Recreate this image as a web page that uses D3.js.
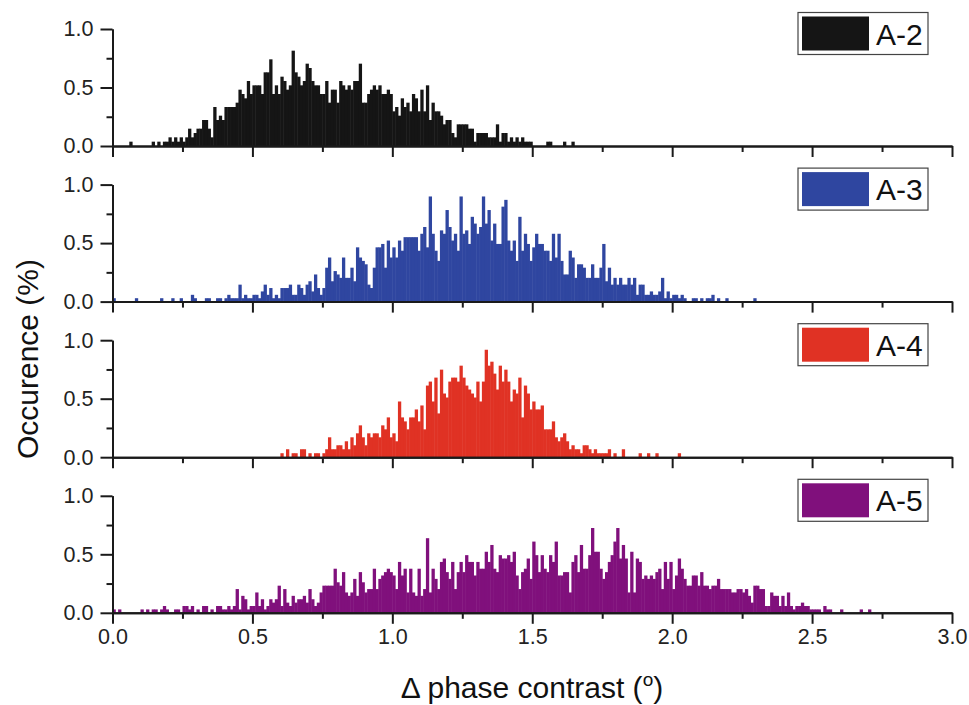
<!DOCTYPE html>
<html>
<head>
<meta charset="utf-8">
<script src="https://cdn.jsdelivr.net/npm/d3@7"></script>
<style>
  body { margin: 0; background: #fff; }
  svg { font-family: "Liberation Sans", Arial, sans-serif; }
</style>
</head>
<body>
<div id="chart"></div>
<script>
// ---------------------------//
//       DATA                 //
// ---------------------------//

// histogram bin width (degrees) and series names
const binWidth = 0.01;
const seriesNames = ["A-2", "A-3", "A-4", "A-5"];
// first bin of each series, and number of samples (occurrence % = count / total)
const binStart = [0.06, 0.00, 0.60, 0.00];
const sampleTotals = [2700, 3450, 2940, 3450];

const countsA2 = [
  1, 0,0,0,0,0,0,0, 1,0,1,0,1,1,
  2,1,2,1,2, 1,2,4,2,3, 4,4,6,6,4, 2,9,6,7,6,
  9,9,9,9,10, 13,12,11,15,12, 14,14,14,12,17, 17,20,12,14,12,
  16,15,13,14,22, 17,16,14,15,19, 18,15,14,14,12, 12,15,10,13,13,
  10,15,14,13,14, 13,15,15,19,10, 10,12,13,14,13, 14,12,12,13,12,
  8,9,7,11,9, 10,8,12,11,8, 13,8,14,6,10, 8,8,7,5,6,
  6,3,2,5,5, 5,5,4,4,1, 3,3,3,3,2, 2,2,5,1,3,
  3,1,2,1,2, 1,2,1,1,1, 0,0,0,0,0, 1,1,0,0,0, 0,1,0,0,1
];

const countsA3 = [
  1,0,0,0,0,0,0,0,1,0, 0,0,0,0,0,0,0,1,0,0,
  0,1,0,0,1,0,0,0,2,1, 0,0,0,1,1,0,0,1,1,0,
  1,2,1,1,1,5,1,2,1,1, 2,2,1,3,5,2,4,1,2,1,
  4,4,4,5,2,2,5,4,2,5, 6,3,8,4,2,4,10,13,6,9,
  8,7,13,7,7,10,6,16,13,12, 11,5,4,10,16,16,17,10,18,13,
  16,13,18,15,19,19,19,19,19,15, 20,22,16,31,20,15,12,21,20,27,
  22,18,20,15,31,20,21,17,25,23, 20,22,31,23,27,18,23,17,17,28,
  30,18,15,18,12,25,15,20,17,12, 16,20,17,17,15,15,12,20,13,20,
  12,8,8,15,13,7,11,11,10,7, 7,11,7,7,10,17,6,10,5,7,
  5,7,5,5,7,5,7,2,5,5, 2,2,3,2,2,3,7,1,3,1,
  2,2,1,2,1,0,0,1,1,0, 1,0,1,1,2,0,1,0,0,1,
  0,0,0,0,0,0,0,0,0,1
];

const countsA4 = [
  1,0,2,0,1,1,0,2,2,0, 1,0,1,1,0,1,2,5,2,2,
  3,3,2,4,2,5,3,6,8,5, 3,6,5,6,6,5,8,7,10,5,
  6,4,14,10,9,7,10,10,12,9, 13,7,18,19,14,20,11,22,16,15,
  19,20,20,19,23,20,18,17,16,15, 19,14,19,27,23,24,21,17,23,19,
  22,19,14,17,16,20,10,18,16,12, 14,12,12,13,7,7,7,9,5,4,
  5,6,4,2,3,2,2,1,3,3, 2,1,2,1,1,1,1,2,0,1,
  0,0,2,0,0,0,0,0,1,0, 0,1,0,0,1,0,0,0,0,0,
  0,0,1
];

const countsA5 = [
  1,0,1,0,0,0,0,0,0,0, 1,0,1,0,1,1,0,1,2,1,
  0,0,1,1,0,2,2,1,2,0, 1,0,2,2,0,1,0,2,2,1,
  1,2,1,2,7,1,5,4,1,2, 2,6,2,4,1,2,4,3,4,8,
  2,7,3,2,5,3,4,4,5,3, 7,4,2,3,6,8,8,8,8,13,
  9,8,12,6,5,6,10,5,12,9, 6,7,7,13,7,10,11,12,13,12,
  11,7,15,11,13,6,13,6,5,13, 5,7,22,6,13,10,7,15,16,12,
  10,15,7,12,15,12,17,15,15,11, 15,13,13,18,15,20,13,12,17,16,
  16,17,15,18,11,7,12,13,16,10, 21,17,12,17,13,12,17,15,21,11,
  11,12,12,6,15,17,12,20,13,13, 17,25,18,18,13,10,12,15,17,21,
  25,16,20,16,6,18,6,16,15,10, 11,10,11,10,12,13,7,15,10,15,
  7,11,16,13,10,8,8,11,11,8, 12,8,8,7,8,8,10,7,7,7,
  7,6,6,7,7,6,7,5,3,8, 8,7,7,2,2,6,5,5,2,5,
  2,6,2,1,2,2,3,2,2,1, 1,1,1,0,2,1,1,0,0,0,
  1,0,0,0,0,0,0,1,0,0, 1
];

// axis ticks
const xMajorTicks = [0, 0.5, 1.0, 1.5, 2.0, 2.5, 3.0];
const xMinorTicks = [0.25, 0.75, 1.25, 1.75, 2.25, 2.75];
const yMajorTicks = [0, 0.5, 1.0];
const yMinorTicks = [0.25, 0.75];

const allCounts = [countsA2, countsA3, countsA4, countsA5];
const colors = ["#151515", "#2f46a0", "#e03224", "#80107c"];

// ---------------------------//
//       LAYOUT               //
// ---------------------------//
const width = 969, height = 705;
const plotLeft = 112.5, plotRight = 952;
const firstTop = 29, panelStep = 155.6, panelHeight = 117;
const axisColor = "#1a1a1a";

const svg = d3.select("#chart")
  .append("svg")
    .attr("width", width)
    .attr("height", height);

const x = d3.scaleLinear()
  .domain([0, 3])
  .range([plotLeft, plotRight]);

seriesNames.forEach((name, i) => {
  const top = firstTop + i * panelStep;
  const zero = top + panelHeight;
  const y = d3.scaleLinear()
    .domain([0, 1])
    .range([zero, top]);

  const bins = allCounts[i].map((c, j) => ({
    x0: +(binStart[i] + j * binWidth).toFixed(2),
    pct: c * 100 / sampleTotals[i]
  })).filter(d => d.pct > 0);

  const g = svg.append("g");

  // bars (slight overlap so neighbouring bins don't show seams)
  g.append("g")
    .selectAll("rect")
    .data(bins)
    .join("rect")
      .attr("x", d => x(d.x0))
      .attr("width", d => x(d.x0 + binWidth) - x(d.x0) + 0.5)
      .attr("y", d => y(d.pct))
      .attr("height", d => zero - y(d.pct))
      .attr("fill", colors[i]);

  // x axis: minor then major ticks
  const isLast = i === seriesNames.length - 1;
  g.append("g")
    .attr("transform", `translate(0,${zero})`)
    .call(d3.axisBottom(x).tickValues(xMinorTicks).tickSize(6).tickSizeOuter(0).tickFormat(""));
  g.append("g")
    .attr("transform", `translate(0,${zero})`)
    .call(d3.axisBottom(x).tickValues(xMajorTicks).tickSize(11).tickSizeOuter(0)
      .tickPadding(5)
      .tickFormat(isLast ? d3.format(".1f") : ""));

  // y axis
  g.append("g")
    .attr("transform", `translate(${plotLeft},0)`)
    .call(d3.axisLeft(y).tickValues(yMinorTicks).tickSize(6).tickSizeOuter(0).tickFormat(""));
  g.append("g")
    .attr("transform", `translate(${plotLeft},0)`)
    .call(d3.axisLeft(y).tickValues(yMajorTicks).tickSize(12).tickSizeOuter(0)
      .tickPadding(7)
      .tickFormat(d3.format(".1f")));

  // legend
  const lg = g.append("g")
    .attr("transform", `translate(798,${zero - 133.5})`);
  lg.append("rect")
    .attr("width", 130)
    .attr("height", 42)
    .attr("fill", "#fff")
    .attr("stroke", "#444")
    .attr("stroke-width", 1.2);
  lg.append("rect")
    .attr("x", 4)
    .attr("y", 4)
    .attr("width", 67)
    .attr("height", 34)
    .attr("fill", colors[i]);
  lg.append("text")
    .attr("x", 78)
    .attr("y", 32)
    .attr("font-size", 30)
    .attr("fill", "#111")
    .text(name);
});

// axis styling
svg.selectAll(".domain, .tick line")
  .attr("stroke", axisColor)
  .attr("stroke-width", 2);
svg.selectAll(".tick text")
  .attr("font-size", 21.5)
  .attr("font-family", "'Liberation Sans', Arial, sans-serif")
  .attr("fill", "#222");

// axis titles
const xTitle = svg.append("text")
  .attr("x", 532)
  .attr("y", 698)
  .attr("text-anchor", "middle")
  .attr("font-size", 30)
  .attr("fill", "#111");
xTitle.append("tspan").text("\u0394 phase contrast (");
xTitle.append("tspan").attr("dy", -12).attr("font-size", 19).text("o");
xTitle.append("tspan").attr("dy", 12).text(")");

svg.append("text")
  .attr("transform", "translate(38,359) rotate(-90)")
  .attr("text-anchor", "middle")
  .attr("font-size", 30)
  .attr("fill", "#111")
  .text("Occurence (%)");
</script>
</body>
</html>
